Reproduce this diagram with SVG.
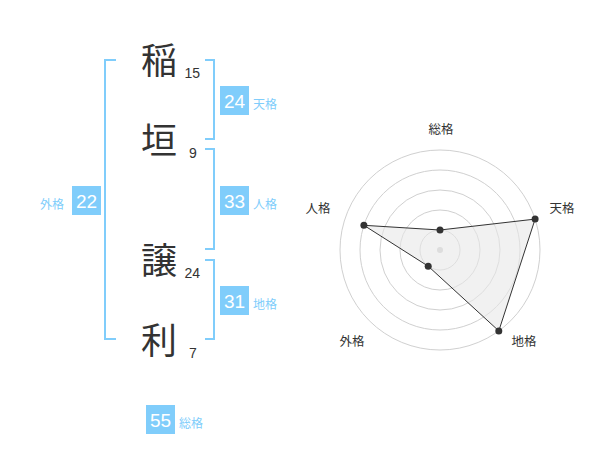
<svg xmlns="http://www.w3.org/2000/svg" width="600" height="470" viewBox="0 0 600 470">
<style>
.kanji{font-family:"Noto Sans CJK JP","Noto Sans CJK SC",sans-serif;font-size:36px;fill:#333;text-anchor:middle}
.stroke{font-family:"Liberation Sans",Arial,sans-serif;font-size:14px;fill:#333}
.br{fill:none;stroke:#80cdfb;stroke-width:2}
.box{fill:#80cdfb}
.num{font-family:"Liberation Sans",Arial,sans-serif;font-size:19px;fill:#fff;text-anchor:middle}
.lab{font-family:"Noto Sans CJK JP","Noto Sans CJK SC",sans-serif;font-size:12px;fill:#80cdfb}
.ring{fill:none;stroke:#d0d0d0;stroke-width:1}
.rl{font-family:"Noto Sans CJK JP","Noto Sans CJK SC",sans-serif;font-size:12.5px;fill:#333;text-anchor:middle}
.dot{fill:#333}
</style>
<rect width="600" height="470" fill="#fff"/>
<g id="name">
<g id="c1"><text class="kanji" x="159" y="74">稲</text><text class="stroke" x="184.5" y="78">15</text></g>
<g id="c2"><text class="kanji" x="159" y="154">垣</text><text class="stroke" x="189" y="158">9</text></g>
<g id="c3"><text class="kanji" x="159" y="274">譲</text><text class="stroke" x="184.5" y="278">24</text></g>
<g id="c4"><text class="kanji" x="159" y="354">利</text><text class="stroke" x="189" y="358">7</text></g>
</g>
<g id="brackets">
<path class="br" d="M116,60 H105 V339 H116"/>
<path class="br" d="M205,60 H214 V139 H205"/>
<path class="br" d="M205,149 H214 V249 H205"/>
<path class="br" d="M205,260 H214 V339 H205"/>
</g>
<g id="tenkaku"><rect class="box" x="220" y="86" width="29" height="29"/><text class="num" x="234.5" y="107.5">24</text><text class="lab" x="253" y="109">天格</text></g>
<g id="jinkaku"><rect class="box" x="220" y="186" width="29" height="29"/><text class="num" x="234.5" y="207.5">33</text><text class="lab" x="253" y="209">人格</text></g>
<g id="chikaku"><rect class="box" x="220" y="286" width="29" height="29"/><text class="num" x="234.5" y="307.5">31</text><text class="lab" x="253" y="309">地格</text></g>
<g id="gaikaku"><rect class="box" x="72" y="186" width="29" height="29"/><text class="num" x="86.5" y="207.5">22</text><text class="lab" x="40" y="209">外格</text></g>
<g id="soukaku"><rect class="box" x="146" y="405" width="29" height="29"/><text class="num" x="160.5" y="426.5">55</text><text class="lab" x="179" y="428">総格</text></g>
<g id="radar">
<circle class="ring" cx="440" cy="250" r="20"/>
<circle class="ring" cx="440" cy="250" r="40"/>
<circle class="ring" cx="440" cy="250" r="60"/>
<circle class="ring" cx="440" cy="250" r="80"/>
<circle class="ring" cx="440" cy="250" r="100"/>
<circle cx="440" cy="250" r="3" fill="#ccc"/>
<polygon points="440,230 535.1,219.1 498.8,330.9 428.2,266.2 363.9,225.3" fill="#e8e8e8" fill-opacity="0.6" stroke="#333" stroke-width="1"/>
<circle class="dot" cx="440" cy="230" r="3.5"/>
<circle class="dot" cx="535.1" cy="219.1" r="3.5"/>
<circle class="dot" cx="498.8" cy="330.9" r="3.5"/>
<circle class="dot" cx="428.2" cy="266.2" r="3.5"/>
<circle class="dot" cx="363.9" cy="225.3" r="3.5"/>
<text class="rl" x="441" y="134">総格</text>
<text class="rl" x="562" y="213">天格</text>
<text class="rl" x="524" y="346">地格</text>
<text class="rl" x="352" y="346">外格</text>
<text class="rl" x="318" y="213">人格</text>
</g>
</svg>
